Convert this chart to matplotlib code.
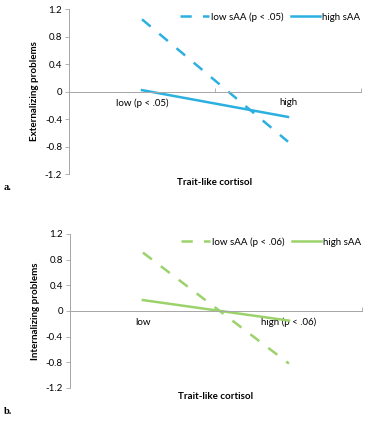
import matplotlib
matplotlib.use("Agg")
import matplotlib.pyplot as plt

plt.rcParams['font.family'] = ['Lato', 'DejaVu Sans']

# data
categories = [0, 1]
yticks = [-1.2, -0.8, -0.4, 0, 0.4, 0.8, 1.2]
ytick_labels = ["-1.2", "-0.8", "-0.4", "0", "0.4", "0.8", "1.2"]

ext_labels = ["low (p < .05)", "high"]
ext_low_saa = [1.05, -0.73]
ext_high_saa = [0.02, -0.37]

int_labels = ["low", "high (p < .06)"]
int_low_saa = [0.91, -0.82]
int_high_saa = [0.17, -0.15]

blue = "#2BB0E0"
green = "#9CD26C"
gray = "#A6A6A6"

fig = plt.figure(figsize=(3.68, 4.29), dpi=100)


def panel(rect, low, high, cat_labels, color, ylabel, leg_low, letter, letter_y):
    ax = fig.add_axes(rect)
    ax.plot(categories, low, color=color, lw=1.8, ls=(0, (4.5, 4.5)), label=leg_low)
    ax.plot(categories, high, color=color, lw=1.8, label="high sAA")
    ax.set_xlim(-0.5, 1.5)
    ax.set_ylim(-1.2, 1.2)
    ax.set_yticks(yticks)
    ax.set_yticklabels(ytick_labels, fontsize=7)
    ax.tick_params(axis='y', length=3, width=0.6, color=gray, pad=2)
    for s in ['top', 'right']:
        ax.spines[s].set_visible(False)
    ax.spines['left'].set_color(gray)
    ax.spines['left'].set_linewidth(0.7)
    ax.spines['bottom'].set_position(('data', 0))
    ax.spines['bottom'].set_color(gray)
    ax.spines['bottom'].set_linewidth(0.7)
    ax.set_xticks([-0.5, 0.5, 1.5])
    ax.set_xticklabels([])
    ax.tick_params(axis='x', which='major', length=3, width=0.6, color=gray, direction='in')
    ax.set_xticks(categories, minor=True)
    ax.set_xticklabels(cat_labels, minor=True, fontsize=7)
    ax.tick_params(axis='x', which='minor', length=0, pad=5)
    ax.set_ylabel(ylabel, fontsize=7, fontweight='bold', labelpad=4)
    ax.set_xlabel("Trait-like cortisol", fontsize=7, fontweight='bold')
    ax.xaxis.set_label_coords(0.5, -0.025)
    ax.legend(loc='upper right', ncol=2, frameon=False, fontsize=7,
              handlelength=3.0, handletextpad=0.15, columnspacing=0.8,
              bbox_to_anchor=(1.01, 1.005), borderaxespad=0)
    fig.text(0.01, letter_y, letter, fontsize=7.5, fontweight='bold',
             family=['Liberation Serif'])
    return ax


panel([0.1875, 0.5944, 0.7935, 0.3846], ext_low_saa, ext_high_saa, ext_labels,
      blue, "Externalizing problems", "low sAA (p < .05)", "a.", 0.558)
panel([0.190, 0.0956, 0.7935, 0.359], int_low_saa, int_high_saa, int_labels,
      green, "Internalizing problems", "low sAA (p < .06)", "b.", 0.036)

fig.savefig("out.png", dpi=100)
